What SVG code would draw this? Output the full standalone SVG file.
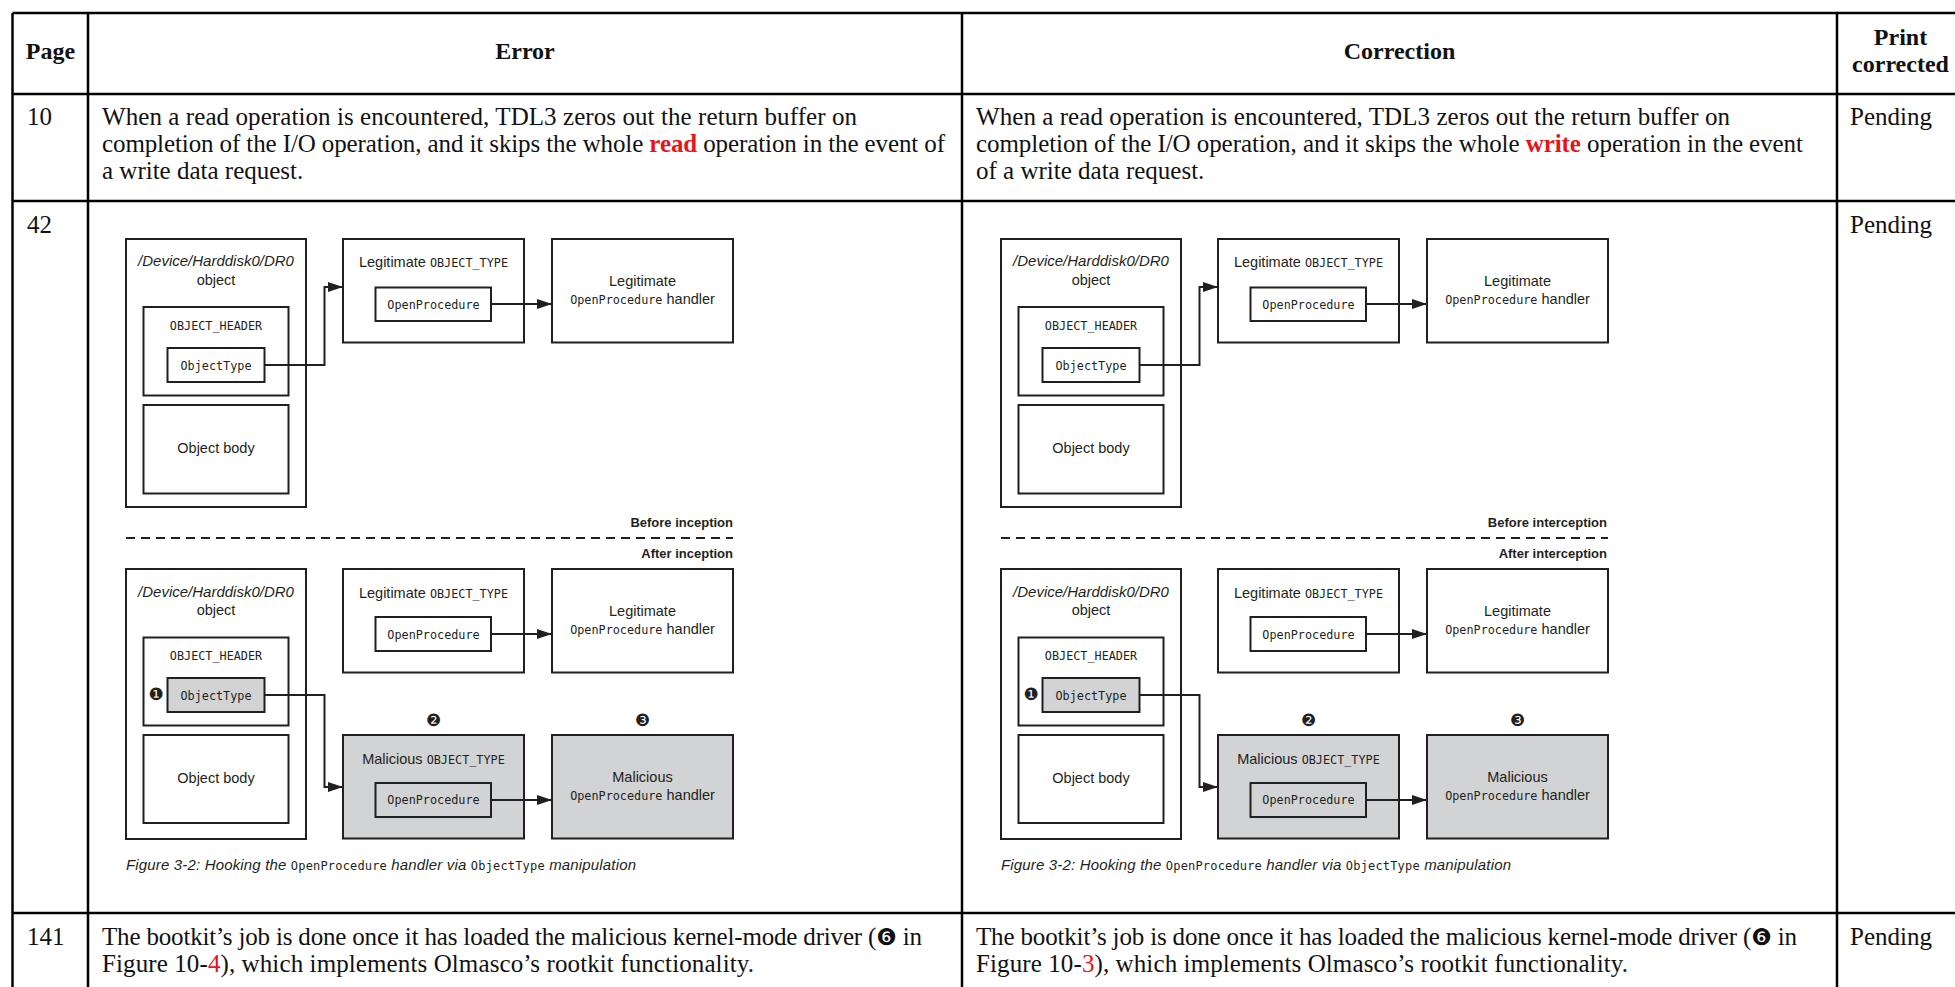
<svg xmlns="http://www.w3.org/2000/svg" width="1955" height="987" viewBox="0 0 1955 987">
<defs>
<style>
.tl{stroke:#000;stroke-width:2.5;fill:none}
.t{font-family:"Liberation Serif","DejaVu Serif",serif;font-size:25px;fill:#111}
.h{font-family:"Liberation Serif",serif;font-size:24px;font-weight:bold;fill:#111;text-anchor:middle}
.red{fill:#e8141b}
.b{font-weight:bold}
.dg{font-family:"DejaVu Sans",sans-serif;font-size:23px}
.bx{fill:#fff;stroke:#231f20;stroke-width:2}
.gbx{fill:#d1d3d4;stroke:#231f20;stroke-width:2}
.s{font-family:"Liberation Sans",Arial,sans-serif;font-size:14.5px;fill:#231f20;text-anchor:middle}
.m{font-family:"DejaVu Sans Mono","Liberation Mono",monospace;font-size:11.8px}
.it{font-style:italic}
.ttl{font-size:15px;font-style:italic}
.lbl{font-family:"Liberation Sans",Arial,sans-serif;font-size:13px;font-weight:bold;fill:#231f20;text-anchor:end}
.num{font-family:"DejaVu Sans",sans-serif;font-size:17px;fill:#231f20;text-anchor:middle}
.cap{font-family:"Liberation Sans",Arial,sans-serif;font-size:15px;font-style:italic;fill:#231f20}
.cm{font-family:"DejaVu Sans Mono","Liberation Mono",monospace;font-size:12px;font-style:normal}
.cn{fill:none;stroke:#231f20;stroke-width:2}
.dash{stroke:#231f20;stroke-width:2;stroke-dasharray:9 6}
</style>
<marker id="ah" markerUnits="userSpaceOnUse" markerWidth="15" markerHeight="10" refX="15" refY="5" orient="auto"><path d="M0,0 L15,5 L0,10 z" fill="#231f20"/></marker>
</defs>
<rect x="0" y="0" width="1955" height="987" fill="#fff"/>

<g id="table-grid">
<line class="tl" x1="12.5" y1="13" x2="1960" y2="13"/>
<line class="tl" x1="12.5" y1="94" x2="1960" y2="94"/>
<line class="tl" x1="12.5" y1="201" x2="1960" y2="201"/>
<line class="tl" x1="12.5" y1="913" x2="1960" y2="913"/>
<line class="tl" x1="12.5" y1="13" x2="12.5" y2="990"/>
<line class="tl" x1="88" y1="13" x2="88" y2="990"/>
<line class="tl" x1="962" y1="13" x2="962" y2="990"/>
<line class="tl" x1="1837" y1="13" x2="1837" y2="990"/>
</g>

<g id="header-row">
<text class="h" x="50.5" y="59">Page</text>
<text class="h" x="525" y="59">Error</text>
<text class="h" x="1399.5" y="59">Correction</text>
<text class="h" x="1900.5" y="45">Print</text>
<text class="h" x="1900.5" y="72">corrected</text>
</g>

<g id="row-10">
<text class="t" x="27" y="125">10</text>
<text class="t" x="102" y="125" textLength="755">When a read operation is encountered, TDL3 zeros out the return buffer on</text>
<text class="t" x="102" y="152" textLength="843">completion of the I/O operation, and it skips the whole <tspan class="red b">read</tspan> operation in the event of</text>
<text class="t" x="102" y="179">a write data request.</text>
<text class="t" x="976" y="125" textLength="754">When a read operation is encountered, TDL3 zeros out the return buffer on</text>
<text class="t" x="976" y="152" textLength="827">completion of the I/O operation, and it skips the whole <tspan class="red b">write</tspan> operation in the event</text>
<text class="t" x="976" y="179">of a write data request.</text>
<text class="t" x="1850" y="125">Pending</text>
</g>

<g id="row-42">
<text class="t" x="27" y="233">42</text>
<text class="t" x="1850" y="233">Pending</text>
</g>

<g id="row-141">
<text class="t" x="27" y="945">141</text>
<text class="t" x="102" y="945" textLength="820">The bootkit’s job is done once it has loaded the malicious kernel-mode driver (<tspan class="dg">❻</tspan> in</text>
<text class="t" x="102" y="972" textLength="652">Figure 10-<tspan class="red">4</tspan>), which implements Olmasco’s rootkit functionality.</text>
<text class="t" x="976" y="945" textLength="821">The bootkit’s job is done once it has loaded the malicious kernel-mode driver (<tspan class="dg">❻</tspan> in</text>
<text class="t" x="976" y="972" textLength="652">Figure 10-<tspan class="red">3</tspan>), which implements Olmasco’s rootkit functionality.</text>
<text class="t" x="1850" y="945">Pending</text>
</g>

<!-- ===== Error column figure ===== -->
<g id="err-figure">
<g id="err-before-object"><rect class="bx" x="126" y="239" width="180" height="268"/>
<text class="s ttl" x="216" y="266">/Device/Harddisk0/DR0</text>
<text class="s" x="216" y="285">object</text></g>
<g id="err-before-header"><rect class="bx" x="143.5" y="307" width="145" height="88.5"/>
<text class="s m" x="216" y="330">OBJECT_HEADER</text></g>
<g id="err-before-objecttype"><rect class="bx" x="167.5" y="348" width="97" height="34"/>
<text class="s m" x="216" y="369.5">ObjectType</text></g>
<g id="err-before-body"><rect class="bx" x="143.5" y="405" width="145" height="88.5"/>
<text class="s" x="216" y="453">Object body</text></g>
<g id="err-before-legit-type"><rect class="bx" x="343" y="239" width="181" height="103.5"/>
<text class="s" x="433.5" y="267">Legitimate <tspan class="m">OBJECT_TYPE</tspan></text></g>
<g id="err-before-legit-openproc"><rect class="bx" x="375.5" y="287.5" width="115.5" height="33.5"/>
<text class="s m" x="433.5" y="308.5">OpenProcedure</text></g>
<g id="err-before-legit-handler"><rect class="bx" x="552" y="239" width="181" height="103.5"/>
<text class="s" x="642.5" y="286">Legitimate</text>
<text class="s" x="642.5" y="303.5"><tspan class="m">OpenProcedure</tspan> handler</text></g>
<g id="err-before-label"><text class="lbl" x="733" y="527">Before inception</text></g>
<g id="err-divider"><line class="dash" x1="126" y1="538" x2="733" y2="538"/></g>
<g id="err-after-label"><text class="lbl" x="733" y="558">After inception</text></g>

<g id="err-after-object"><rect class="bx" x="126" y="569" width="180" height="270"/>
<text class="s ttl" x="216" y="596.5">/Device/Harddisk0/DR0</text>
<text class="s" x="216" y="615">object</text></g>
<g id="err-after-header"><rect class="bx" x="143.5" y="637.5" width="145" height="88"/>
<text class="s m" x="216" y="660">OBJECT_HEADER</text></g>
<g id="err-after-objecttype"><rect class="gbx" x="167.5" y="678" width="97" height="34"/>
<text class="s m" x="216" y="699.5">ObjectType</text>
<text class="num" x="156" y="700">❶</text></g>
<g id="err-after-body"><rect class="bx" x="143.5" y="735" width="145" height="88"/>
<text class="s" x="216" y="783">Object body</text></g>
<g id="err-after-legit-type"><rect class="bx" x="343" y="569" width="181" height="103.5"/>
<text class="s" x="433.5" y="597.5">Legitimate <tspan class="m">OBJECT_TYPE</tspan></text></g>
<g id="err-after-legit-openproc"><rect class="bx" x="375.5" y="617" width="115.5" height="34"/>
<text class="s m" x="433.5" y="638.5">OpenProcedure</text></g>
<g id="err-after-legit-handler"><rect class="bx" x="552" y="569" width="181" height="103.5"/>
<text class="s" x="642.5" y="616">Legitimate</text>
<text class="s" x="642.5" y="633.5"><tspan class="m">OpenProcedure</tspan> handler</text></g>
<g id="err-after-mal-type"><rect class="gbx" x="343" y="735" width="181" height="103.5"/>
<text class="num" x="433.5" y="725.5">❷</text>
<text class="s" x="433.5" y="763.5">Malicious <tspan class="m">OBJECT_TYPE</tspan></text></g>
<g id="err-after-mal-openproc"><rect class="gbx" x="375.5" y="783" width="115.5" height="34"/>
<text class="s m" x="433.5" y="804">OpenProcedure</text></g>
<g id="err-after-mal-handler"><rect class="gbx" x="552" y="735" width="181" height="103.5"/>
<text class="num" x="642.5" y="725.5">❸</text>
<text class="s" x="642.5" y="782">Malicious</text>
<text class="s" x="642.5" y="799.5"><tspan class="m">OpenProcedure</tspan> handler</text></g>
<g id="err-caption"><text class="cap" x="126" y="870" textLength="510">Figure 3-2: Hooking the <tspan class="cm">OpenProcedure</tspan> handler via <tspan class="cm">ObjectType</tspan> manipulation</text></g>
</g>

<!-- ===== Correction column figure ===== -->
<g id="cor-figure" transform="translate(875,0)">
<g id="cor-before-object"><rect class="bx" x="126" y="239" width="180" height="268"/>
<text class="s ttl" x="216" y="266">/Device/Harddisk0/DR0</text>
<text class="s" x="216" y="285">object</text></g>
<g id="cor-before-header"><rect class="bx" x="143.5" y="307" width="145" height="88.5"/>
<text class="s m" x="216" y="330">OBJECT_HEADER</text></g>
<g id="cor-before-objecttype"><rect class="bx" x="167.5" y="348" width="97" height="34"/>
<text class="s m" x="216" y="369.5">ObjectType</text></g>
<g id="cor-before-body"><rect class="bx" x="143.5" y="405" width="145" height="88.5"/>
<text class="s" x="216" y="453">Object body</text></g>
<g id="cor-before-legit-type"><rect class="bx" x="343" y="239" width="181" height="103.5"/>
<text class="s" x="433.5" y="267">Legitimate <tspan class="m">OBJECT_TYPE</tspan></text></g>
<g id="cor-before-legit-openproc"><rect class="bx" x="375.5" y="287.5" width="115.5" height="33.5"/>
<text class="s m" x="433.5" y="308.5">OpenProcedure</text></g>
<g id="cor-before-legit-handler"><rect class="bx" x="552" y="239" width="181" height="103.5"/>
<text class="s" x="642.5" y="286">Legitimate</text>
<text class="s" x="642.5" y="303.5"><tspan class="m">OpenProcedure</tspan> handler</text></g>
<g id="cor-before-label"><text class="lbl" x="732" y="527">Before interception</text></g>
<g id="cor-divider"><line class="dash" x1="126" y1="538" x2="733" y2="538"/></g>
<g id="cor-after-label"><text class="lbl" x="732" y="558">After interception</text></g>

<g id="cor-after-object"><rect class="bx" x="126" y="569" width="180" height="270"/>
<text class="s ttl" x="216" y="596.5">/Device/Harddisk0/DR0</text>
<text class="s" x="216" y="615">object</text></g>
<g id="cor-after-header"><rect class="bx" x="143.5" y="637.5" width="145" height="88"/>
<text class="s m" x="216" y="660">OBJECT_HEADER</text></g>
<g id="cor-after-objecttype"><rect class="gbx" x="167.5" y="678" width="97" height="34"/>
<text class="s m" x="216" y="699.5">ObjectType</text>
<text class="num" x="156" y="700">❶</text></g>
<g id="cor-after-body"><rect class="bx" x="143.5" y="735" width="145" height="88"/>
<text class="s" x="216" y="783">Object body</text></g>
<g id="cor-after-legit-type"><rect class="bx" x="343" y="569" width="181" height="103.5"/>
<text class="s" x="433.5" y="597.5">Legitimate <tspan class="m">OBJECT_TYPE</tspan></text></g>
<g id="cor-after-legit-openproc"><rect class="bx" x="375.5" y="617" width="115.5" height="34"/>
<text class="s m" x="433.5" y="638.5">OpenProcedure</text></g>
<g id="cor-after-legit-handler"><rect class="bx" x="552" y="569" width="181" height="103.5"/>
<text class="s" x="642.5" y="616">Legitimate</text>
<text class="s" x="642.5" y="633.5"><tspan class="m">OpenProcedure</tspan> handler</text></g>
<g id="cor-after-mal-type"><rect class="gbx" x="343" y="735" width="181" height="103.5"/>
<text class="num" x="433.5" y="725.5">❷</text>
<text class="s" x="433.5" y="763.5">Malicious <tspan class="m">OBJECT_TYPE</tspan></text></g>
<g id="cor-after-mal-openproc"><rect class="gbx" x="375.5" y="783" width="115.5" height="34"/>
<text class="s m" x="433.5" y="804">OpenProcedure</text></g>
<g id="cor-after-mal-handler"><rect class="gbx" x="552" y="735" width="181" height="103.5"/>
<text class="num" x="642.5" y="725.5">❸</text>
<text class="s" x="642.5" y="782">Malicious</text>
<text class="s" x="642.5" y="799.5"><tspan class="m">OpenProcedure</tspan> handler</text></g>
<g id="cor-caption"><text class="cap" x="126" y="870" textLength="510">Figure 3-2: Hooking the <tspan class="cm">OpenProcedure</tspan> handler via <tspan class="cm">ObjectType</tspan> manipulation</text></g>
</g>

<g id="connectors">
<path class="cn" d="M264.5,365 H324.5 V287 H343" marker-end="url(#ah)"/>
<path class="cn" d="M491,304 H552" marker-end="url(#ah)"/>
<path class="cn" d="M491,634 H552" marker-end="url(#ah)"/>
<path class="cn" d="M264.5,695 H324.5 V787 H343" marker-end="url(#ah)"/>
<path class="cn" d="M491,800 H552" marker-end="url(#ah)"/>
<path class="cn" d="M1139.5,365 H1199.5 V287 H1218" marker-end="url(#ah)"/>
<path class="cn" d="M1366,304 H1427" marker-end="url(#ah)"/>
<path class="cn" d="M1366,634 H1427" marker-end="url(#ah)"/>
<path class="cn" d="M1139.5,695 H1199.5 V787 H1218" marker-end="url(#ah)"/>
<path class="cn" d="M1366,800 H1427" marker-end="url(#ah)"/>
</g>
</svg>
